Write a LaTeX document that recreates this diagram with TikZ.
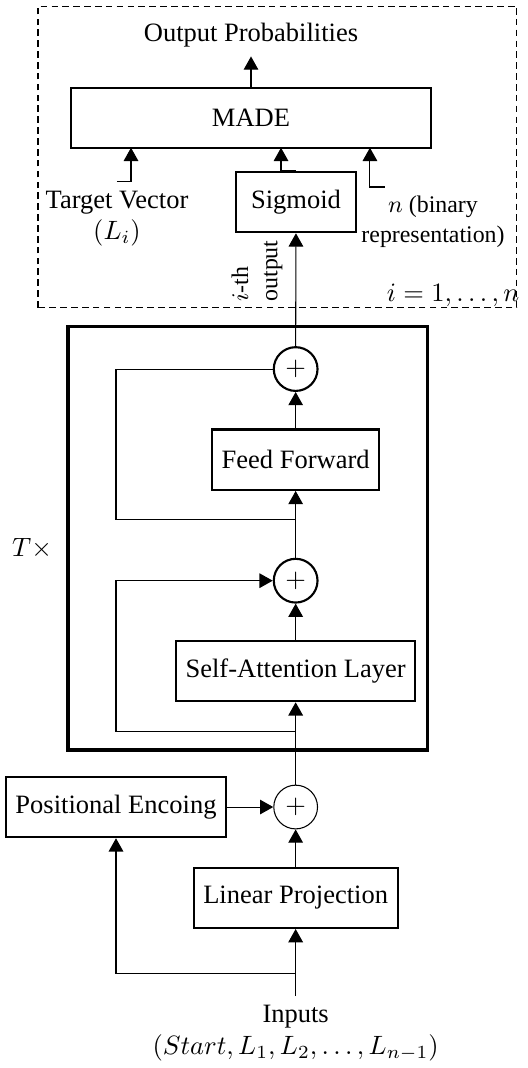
\documentclass[tikz,border=0pt]{standalone}
\usepackage{fontspec}
\setmainfont{Liberation Serif}
\usepackage{amsmath}
\usetikzlibrary{arrows.meta}

\begin{document}
\begin{tikzpicture}[
    arr/.style={-{Triangle[width=5.5pt,length=5pt]}},
    block/.style={rectangle, draw, thick, minimum height=0.8cm, align=center},
    adder/.style={circle, draw, thick, minimum size=0.58cm, inner sep=0pt},
    thinadder/.style={adder, thin},
    note/.style={align=center}
]
    \useasboundingbox (0,0) rectangle (7.0,14.16);
    % sampling head, repeated for every position
    \draw[dashed, dash pattern=on 2.5pt off 1.6pt] (0.504,10.08) rectangle (6.854,14.08);
    \node[note] (out) at (3.328,13.695) {Output Probabilities};
    \node[block, minimum width=4.773cm] (made) at (3.328,12.595) {MADE};
    \node[block, minimum width=1.59cm] (sigmoid) at (3.924,11.481) {Sigmoid};
    \node[note] (target) at (1.551,11.26) {Target Vector\\$(L_i)$};
    \node[note, font=\small] (binrep) at (5.741,11.22) {$n$ (binary\\representation)};
    \node[align=left, font=\small, rotate=90] (ith) at (3.407,10.567) {$i$-th\\output};
    \node[anchor=base east, inner sep=0pt] (range) at (6.894,10.156) {$i=1,\ldots,n$};
    \coordinate (madein1) at (1.737,12.201);
    \coordinate (madein2) at (3.726,12.201);
    \coordinate (madein3) at (4.905,12.201);
    \draw[arr] (made.north) -- (out.south);
    \draw[arr] (target.north) -| (madein1);
    \draw[arr] (sigmoid.north) -| (madein2);
    \draw[arr] ([xshift=-0.637cm]binrep.north) -| (madein3);

    % stacked transformer layers
    \node[rectangle, draw, very thick, minimum width=4.768cm, minimum height=5.612cm] (tstack) at (3.286,7.022) {};
    \node (times) at (0.424,6.881) {$T\times$};
    \node[adder] (plus1) at (3.92,9.267) {$+$};
    \node[block, minimum width=2.21cm] (ff) at (3.92,8.065) {Feed Forward};
    \node[adder] (plus2) at (3.92,6.461) {$+$};
    \node[block, minimum width=3.173cm] (sa) at (3.92,5.263) {Self-Attention Layer};
    \coordinate (res1) at (3.92,7.275);
    \coordinate (bend1) at (1.538,7.275);
    \coordinate (res2) at (3.92,4.459);
    \coordinate (bend2) at (1.538,4.459);
    \draw (plus1.west) -| (bend1) -- (res1);
    \draw[arr] (res2) -- (bend2) |- (plus2.west);
    \draw[arr] (ff.north) -- (plus1.south);
    \draw[arr] (plus2.north) -- (ff.south);
    \draw[arr] (sa.north) -- (plus2.south);
    \draw[arr] (plus1.north) -- (sigmoid.south);

    % input embedding
    \node[thinadder] (plus3) at (3.92,3.46) {$+$};
    \node[block, minimum width=2.917cm] (pe) at (1.538,3.46) {Positional Encoing};
    \node[block, minimum width=2.705cm] (lp) at (3.92,2.257) {Linear Projection};
    \node[note] (inputs) at (3.92,0.46) {Inputs\\$(Start, L_1, L_2, \ldots, L_{n-1})$};
    \coordinate (branch) at (3.92,1.256);
    \draw[arr] (inputs.north) -- (lp.south);
    \draw[arr] (branch) -| (pe.south);
    \draw[arr] (lp.north) -- (plus3.south);
    \draw[arr] (pe.east) -- (plus3.west);
    \draw[arr] (plus3.north) -- (sa.south);
\end{tikzpicture}
\end{document}
